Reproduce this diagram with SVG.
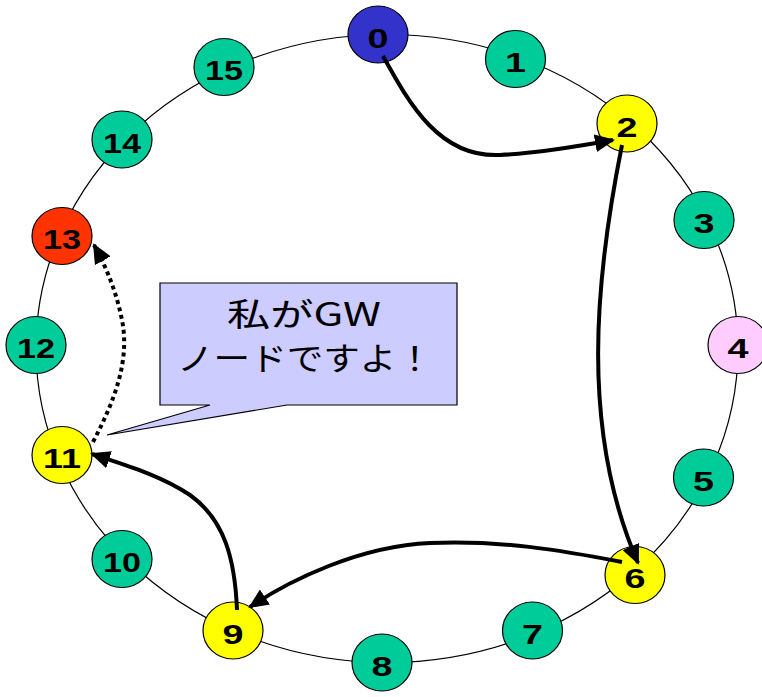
<svg xmlns="http://www.w3.org/2000/svg" width="762" height="697" viewBox="0 0 762 697">
  <style>
    .node ellipse { stroke: #000; stroke-width: 1.2; }
    .node text { font-family: "Liberation Sans", Arial, sans-serif; font-weight: bold; font-size: 27px; fill: #000; text-anchor: middle; }
    .green ellipse { fill: #00CC99; }
    .yellow ellipse { fill: #FFFF00; }
    .ring { fill: none; stroke: #000; stroke-width: 1.2; }
    .edge { fill: none; stroke: #000; stroke-width: 4; marker-end: url(#head); }
    .dotted { stroke-dasharray: 4 3.6; }
    .callout { fill: #CCCCFF; stroke: #000; stroke-width: 1.2; }
    .callout-text { font-family: "Noto Sans CJK JP", "Liberation Sans", sans-serif; font-size: 32px; fill: #000; text-anchor: middle; }
  </style>
  <defs>
    <marker id="head" markerUnits="userSpaceOnUse" markerWidth="20" markerHeight="18" viewBox="0 0 20 18" refX="18" refY="9" orient="auto">
      <path d="M0,0 L20,9 L0,18 z" fill="#000"/>
    </marker>
  </defs>

  <rect width="762" height="697" fill="#fff"/>

  <!-- ring -->
  <ellipse class="ring" cx="387" cy="348.5" rx="351" ry="314"/>

  <!-- callout -->
  <g id="callout">
    <path class="callout" d="M160,283 H457 V405 H287 L107,435 L210,405 H160 Z"/>
    <text class="callout-text" x="304" y="326" textLength="154" lengthAdjust="spacingAndGlyphs">私がGW</text>
    <text class="callout-text" x="305" y="370" textLength="256" lengthAdjust="spacingAndGlyphs">ノードですよ！</text>
  </g>

  <!-- nodes -->
  <g id="node-0" class="node"><ellipse cx="378" cy="34.5" rx="30" ry="28.5" fill="#3333CC"/><text x="378" y="47.5" textLength="21" lengthAdjust="spacingAndGlyphs">0</text></g>
  <g id="node-1" class="node green"><ellipse cx="515.5" cy="59" rx="30" ry="28.5"/><text x="515.5" y="72" textLength="21" lengthAdjust="spacingAndGlyphs">1</text></g>
  <g id="node-2" class="node yellow"><ellipse cx="627" cy="123.5" rx="30" ry="28.5"/><text x="627" y="136.5" textLength="21" lengthAdjust="spacingAndGlyphs">2</text></g>
  <g id="node-3" class="node green"><ellipse cx="704" cy="220" rx="30" ry="28.5"/><text x="704" y="233" textLength="21" lengthAdjust="spacingAndGlyphs">3</text></g>
  <g id="node-4" class="node"><ellipse cx="738" cy="345" rx="30" ry="28.5" fill="#FFCCFF"/><text x="738" y="358" textLength="21" lengthAdjust="spacingAndGlyphs">4</text></g>
  <g id="node-5" class="node green"><ellipse cx="703.5" cy="477.5" rx="30" ry="28.5"/><text x="703.5" y="490.5" textLength="21" lengthAdjust="spacingAndGlyphs">5</text></g>
  <g id="node-6" class="node yellow"><ellipse cx="635" cy="575" rx="30" ry="28.5"/><text x="635" y="588" textLength="21" lengthAdjust="spacingAndGlyphs">6</text></g>
  <g id="node-7" class="node green"><ellipse cx="532.5" cy="630.5" rx="30" ry="28.5"/><text x="532.5" y="643.5" textLength="21" lengthAdjust="spacingAndGlyphs">7</text></g>
  <g id="node-8" class="node green"><ellipse cx="382" cy="662.5" rx="30" ry="28.5"/><text x="382" y="675.5" textLength="21" lengthAdjust="spacingAndGlyphs">8</text></g>
  <g id="node-9" class="node yellow"><ellipse cx="233" cy="630.5" rx="30" ry="28.5"/><text x="233" y="643.5" textLength="21" lengthAdjust="spacingAndGlyphs">9</text></g>
  <g id="node-10" class="node green"><ellipse cx="122" cy="559" rx="30" ry="28.5"/><text x="122" y="572" textLength="38" lengthAdjust="spacingAndGlyphs">10</text></g>
  <g id="node-11" class="node yellow"><ellipse cx="62" cy="455" rx="30" ry="28.5"/><text x="62" y="468" textLength="38" lengthAdjust="spacingAndGlyphs">11</text></g>
  <g id="node-12" class="node green"><ellipse cx="36" cy="345" rx="30" ry="28.5"/><text x="36" y="358" textLength="38" lengthAdjust="spacingAndGlyphs">12</text></g>
  <g id="node-13" class="node"><ellipse cx="62" cy="236" rx="30" ry="28.5" fill="#FF3300"/><text x="62" y="249" textLength="38" lengthAdjust="spacingAndGlyphs">13</text></g>
  <g id="node-14" class="node green"><ellipse cx="122" cy="139.5" rx="30" ry="28.5"/><text x="122" y="152.5" textLength="38" lengthAdjust="spacingAndGlyphs">14</text></g>
  <g id="node-15" class="node green"><ellipse cx="224" cy="67" rx="30" ry="28.5"/><text x="224" y="80" textLength="38" lengthAdjust="spacingAndGlyphs">15</text></g>

  <!-- routing path -->
  <g id="connectors">
    <path class="edge" d="M383,56 C410,105 440,158 500,155 C540,153 580,146 613,140"/>
    <path class="edge" d="M622,145 C595,280 580,430 638,563"/>
    <path class="edge" d="M622,562 C560,550 500,540 430,543 C360,546 290,580 250,607"/>
    <path class="edge" d="M237,610 C235,560 225,520 190,495 C160,475 125,465 92,454"/>
    <path class="edge dotted" d="M93,442 C115,400 130,360 122,320 C117,295 108,270 94,245"/>
  </g>
</svg>
